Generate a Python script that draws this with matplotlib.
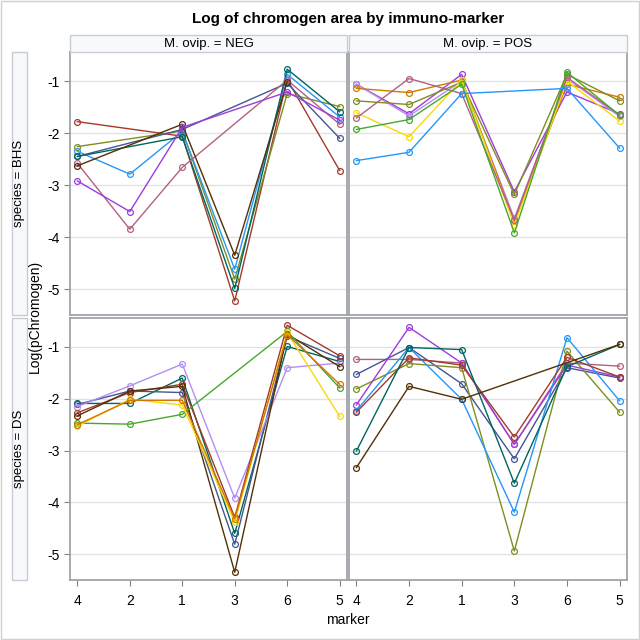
import numpy as np
import matplotlib

matplotlib.use("Agg")

import matplotlib.pyplot as plt  # noqa: E402
from matplotlib.patches import Rectangle  # noqa: E402

plt.rcParams["font.family"] = ["Liberation Sans", "DejaVu Sans"]
plt.rcParams["axes.unicode_minus"] = False

nan = np.nan

# category order on the x axis
MARKERS = ["4", "2", "1", "3", "6", "5"]

# SAS HTMLBlue group colours
COLORS = {
    "darkblue": "#445694",
    "red": "#A23A2E",
    "teal": "#01665E",
    "brown": "#543005",
    "purple": "#9D3CDB",
    "olive": "#7F8E1F",
    "lightblue": "#2597FA",
    "pink": "#B26084",
    "orange": "#D17800",
    "green": "#47A82A",
    "lavender": "#B38EF3",
    "yellow": "#F9DA04",
}

# species = BHS, M. ovip. = NEG
bhs_neg = {
    "red": [-1.78, nan, -2.06, -5.23, -0.97, -2.72],
    "olive": [-2.26, nan, -1.96, -4.81, -1.24, -1.49],
    "lightblue": [-2.35, -2.79, -1.97, -4.62, -0.87, -1.69],
    "darkblue": [-2.45, nan, -1.93, nan, -1.04, -2.10],
    "teal": [-2.45, nan, -2.07, -4.99, -0.77, -1.59],
    "pink": [-2.58, -3.85, -2.66, nan, -0.98, -1.83],
    "brown": [-2.63, nan, -1.83, -4.35, -1.01, nan],
    "purple": [-2.92, -3.51, -1.89, nan, -1.21, -1.75],
}

# species = BHS, M. ovip. = POS
bhs_pos = {
    "purple": [-1.06, -1.63, -0.87, -3.13, -1.21, -1.63],
    "lavender": [-1.06, -1.67, -1.00, -3.64, -0.95, -1.68],
    "orange": [-1.14, -1.22, -0.98, -3.70, -1.06, -1.31],
    "olive": [-1.38, -1.45, -1.02, -3.18, -0.87, -1.38],
    "yellow": [-1.61, -2.07, -0.98, -3.77, -1.00, -1.77],
    "pink": [-1.71, -0.95, -1.24, -3.67, -0.93, -1.65],
    "green": [-1.93, -1.74, -1.06, -3.92, -0.83, -1.66],
    "lightblue": [-2.53, -2.37, -1.24, nan, -1.14, -2.29],
}

# species = DS, M. ovip. = NEG
ds_neg = {
    "teal": [-2.09, -2.09, -1.60, -4.60, -0.99, -1.28],
    "darkblue": [-2.11, -1.85, -1.88, -4.81, -0.79, -1.22],
    "lavender": [-2.15, -1.75, -1.33, -3.92, -1.40, -1.31],
    "red": [-2.27, -1.88, -1.72, -4.29, -0.58, -1.17],
    "brown": [-2.33, -1.85, -1.76, -5.35, -0.75, -1.38],
    "green": [-2.47, -2.49, -2.30, nan, -0.70, -1.79],
    "yellow": [-2.53, -2.01, -2.12, -4.38, -0.72, -2.34],
    "orange": [-2.50, -2.03, -2.03, -4.32, -0.76, -1.72],
}

# species = DS, M. ovip. = POS
ds_pos = {
    "pink": [-1.24, -1.24, -1.31, -2.88, -1.31, -1.37],
    "darkblue": [-1.53, -1.01, -1.71, -3.16, -1.40, -1.60],
    "olive": [-1.81, -1.32, -1.40, -4.94, -1.08, -2.26],
    "purple": [-2.12, -0.62, -1.31, -2.88, -1.35, -1.58],
    "lightblue": [-2.23, -1.01, -2.01, -4.19, -0.82, -2.04],
    "red": [-2.26, -1.21, -1.35, -2.74, -1.20, -1.58],
    "teal": [-3.01, -1.01, -1.05, -3.63, -1.38, -0.95],
    "brown": [-3.33, -1.76, -2.01, nan, nan, -0.95],
}

COL_LABELS = ["M. ovip. = NEG", "M. ovip. = POS"]
ROW_LABELS = ["species = BHS", "species = DS"]
PANELS = [[bhs_neg, bhs_pos], [ds_neg, ds_pos]]

W = H = 640
FRAME = "#A0A4A8"
STRIP_FACE = "#F7F9FD"
STRIP_EDGE = "#C8CCD2"


def fig_rect(x0, y0, x1, y1):
    """Pixel box (top-left origin) -> figure fraction rect."""
    return [x0 / W, 1 - y1 / H, (x1 - x0) / W, (y1 - y0) / H]


def draw_panel(ax, data):
    x = np.arange(len(MARKERS))
    for key, vals in data.items():
        v = np.array(vals, dtype=float)
        ok = ~np.isnan(v)
        ax.plot(x[ok], v[ok], color=COLORS[key], linewidth=1.0,
                marker="o", markersize=4.2, markerfacecolor="none",
                markeredgewidth=0.9, zorder=3)
    ax.set_xlim(-0.14, 5.14)
    ax.set_ylim(-5.5, -0.44)
    ax.set_xticks(x)
    ax.set_xticklabels(MARKERS)
    ax.set_yticks([-1, -2, -3, -4, -5])
    ax.grid(axis="y", color="#E2E2E2", linewidth=1.0, zorder=0)
    for sp in ax.spines.values():
        sp.set_color(FRAME)
        sp.set_linewidth(1.3)
    ax.tick_params(colors="#808080", labelcolor="black", labelsize=10,
                   length=4, width=0.8)


fig = plt.figure(figsize=(6.4, 6.4), dpi=100)

# outer border
fig.add_artist(Rectangle((0.001, 0.001), 0.997, 0.997, transform=fig.transFigure,
                         fill=False, edgecolor="#D0D0D0", linewidth=1.0))

col_x = [(70, 347), (349, 627)]
row_y = [(52, 315), (318, 580)]

for r in range(2):
    for c in range(2):
        x0, x1 = col_x[c]
        y0, y1 = row_y[r]
        ax = fig.add_axes(fig_rect(x0, y0, x1, y1))
        draw_panel(ax, PANELS[r][c])
        if c == 1:
            ax.tick_params(axis="y", left=False, labelleft=False)
        if r == 0:
            ax.tick_params(axis="x", bottom=False, labelbottom=False)
        else:
            ax.tick_params(axis="x", pad=6)

# column header strips
for c in range(2):
    x0, x1 = col_x[c]
    fig.add_artist(Rectangle((x0 / W, 1 - 52 / H), (x1 - x0) / W, 17 / H,
                             transform=fig.transFigure, facecolor=STRIP_FACE,
                             edgecolor=STRIP_EDGE, linewidth=1.0))
    fig.text((x0 + x1) / 2 / W, 1 - 43.5 / H, COL_LABELS[c],
             ha="center", va="center", fontsize=9.5)

# row header strips
for r in range(2):
    y0, y1 = row_y[r]
    fig.add_artist(Rectangle((12 / W, 1 - y1 / H), 15 / W, (y1 - y0) / H,
                             transform=fig.transFigure, facecolor=STRIP_FACE,
                             edgecolor=STRIP_EDGE, linewidth=1.0))
    fig.text(19.5 / W, 1 - (y0 + y1) / 2 / H, ROW_LABELS[r], rotation=90,
             ha="center", va="center", fontsize=9.5)

fig.text(348 / W, 1 - 19 / H, "Log of chromogen area by immuno-marker",
         ha="center", va="center", fontsize=11, fontweight="bold")
fig.text(35 / W, 1 - 316 / H, "Log(pChromogen)", rotation=90,
         ha="center", va="center", fontsize=10)
fig.text(348 / W, 1 - 620 / H, "marker", ha="center", va="center", fontsize=10)

fig.savefig("out.png", dpi=100)
plt.close(fig)
